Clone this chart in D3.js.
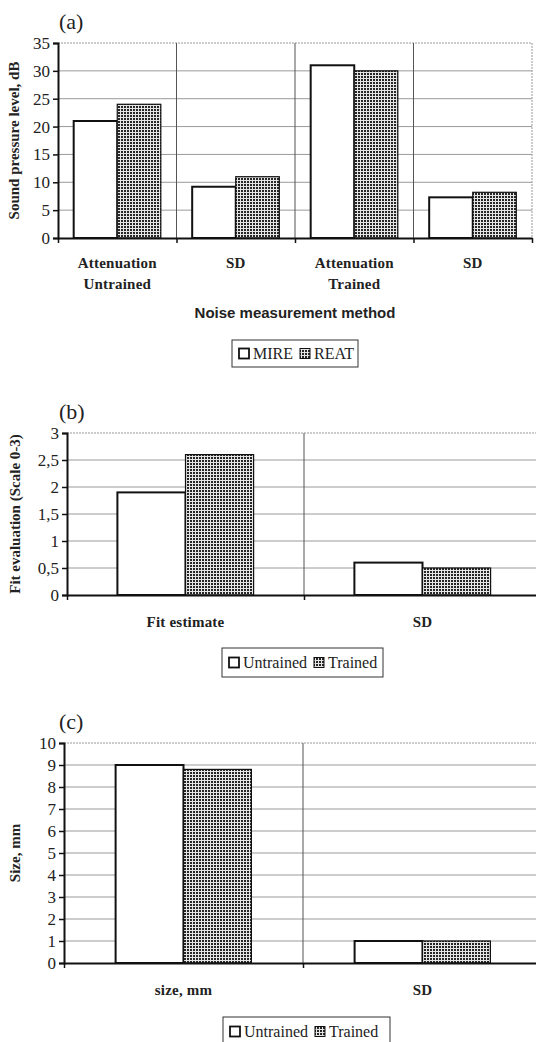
<!DOCTYPE html>
<html>
<head>
<meta charset="utf-8">
<script src="https://cdn.jsdelivr.net/npm/d3@7"></script>
<style>
  body { margin: 0; background: #fff; }
  svg { display: block; }
</style>
</head>
<body>
<div id="chart"></div>
<script>
// panel (a)
var catsA = [["Attenuation", "Untrained"], ["SD"], ["Attenuation", "Trained"], ["SD"]];
var seriesA = ["MIRE", "REAT"];
var mireA = [21, 9.2, 31, 7.3];
var reatA = [24, 11, 30, 8.2];
var ticksA = [0, 5, 10, 15, 20, 25, 30, 35];

// panel (b)
var catsB = [["Fit estimate"], ["SD"]];
var seriesB = ["Untrained", "Trained"];
var untrainedB = [1.9, 0.6];
var trainedB = [2.6, 0.5];
var ticksB = [0, 0.5, 1, 1.5, 2, 2.5, 3];

// panel (c)
var catsC = [["size, mm"], ["SD"]];
var seriesC = ["Untrained", "Trained"];
var untrainedC = [9.0, 1.0];
var trainedC = [8.8, 1.0];
var ticksC = [0, 1, 2, 3, 4, 5, 6, 7, 8, 9, 10];

var svgWidth = 536;
var svgHeight = 1042;
var serif = "'Liberation Serif', 'DejaVu Serif', serif";
var sans = "'Liberation Sans', 'DejaVu Sans', sans-serif";

var svg = d3.select("#chart")
    .append("svg")
    .attr("width", svgWidth)
    .attr("height", svgHeight);

// crosshatch fill
var defs = svg.append("defs");
var pat = defs.append("pattern")
    .attr("id", "hatch")
    .attr("patternUnits", "userSpaceOnUse")
    .attr("width", 3)
    .attr("height", 3);
pat.append("rect").attr("width", 3).attr("height", 3).attr("fill", "#262626");
pat.append("rect").attr("width", 3).attr("height", 1).attr("fill", "#e6e6e6");
pat.append("rect").attr("width", 1).attr("height", 3).attr("fill", "#e6e6e6");

var commaFmt = function(d) { return String(d).replace(".", ","); };

function drawPanel(p) {
    var g = svg.append("g");

    var x = d3.scaleBand()
        .domain(d3.range(p.cats.length))
        .range([p.left, p.right]);

    var xEdges = d3.scaleLinear()
        .domain([0, p.cats.length])
        .range([p.left, p.right]);

    var xSub = d3.scaleBand()
        .domain(p.series)
        .range([0, x.bandwidth()])
        .paddingOuter(p.pad);

    var y = d3.scaleLinear()
        .domain([0, d3.max(p.ticks)])
        .range([p.bottom, p.top]);

    // horizontal grid
    g.selectAll(".grid")
        .data(p.ticks.slice(1))
        .enter()
        .append("line")
        .attr("x1", p.left)
        .attr("x2", p.right)
        .attr("y1", d => y(d))
        .attr("y2", d => y(d))
        .attr("stroke", "#9a9a9a")
        .attr("stroke-width", 1)
        .attr("stroke-dasharray", d => d === d3.max(p.ticks) ? "2,1" : null);

    // right border (only panel a shows it)
    if (p.rightBorder) {
        g.append("line")
            .attr("x1", p.right).attr("x2", p.right)
            .attr("y1", p.top).attr("y2", p.bottom)
            .attr("stroke", "#9a9a9a")
            .attr("stroke-dasharray", "2,1");
    }

    // category separators
    g.selectAll(".sep")
        .data(d3.range(1, p.cats.length))
        .enter()
        .append("line")
        .attr("x1", d => xEdges(d))
        .attr("x2", d => xEdges(d))
        .attr("y1", p.top)
        .attr("y2", p.bottom)
        .attr("stroke", "#555")
        .attr("stroke-width", 1);

    // bars
    var rows = [];
    p.cats.forEach(function(c, i) {
        p.series.forEach(function(s, j) {
            rows.push({cat: i, series: s, value: p.values[j][i], idx: j});
        });
    });

    g.selectAll(".bar")
        .data(rows)
        .enter()
        .append("rect")
        .attr("x", d => x(d.cat) + xSub(d.series))
        .attr("y", d => y(d.value))
        .attr("width", xSub.bandwidth())
        .attr("height", d => y(0) - y(d.value))
        .attr("fill", d => d.idx === 0 ? "#fff" : "url(#hatch)")
        .attr("stroke", "#111")
        .attr("stroke-width", d => d.idx === 0 ? 2 : 1.2);

    // y axis
    var leftAxis = d3.axisLeft(y)
        .tickValues(p.ticks)
        .tickSize(5)
        .tickPadding(3)
        .tickFormat(p.fmt);

    var ya = g.append("g")
        .attr("transform", `translate(${p.left}, 0)`)
        .call(leftAxis);
    ya.attr("font-family", serif).attr("font-size", 17);
    ya.select(".domain").attr("stroke", "#111").attr("stroke-width", 2);
    ya.selectAll(".tick line").attr("stroke", "#111").attr("stroke-width", 1.5);
    ya.selectAll("text")
        .attr("font-family", serif)
        .attr("font-size", "17px")
        .attr("fill", "#222");

    // x axis with ticks at category edges
    var bottomAxis = d3.axisBottom(xEdges)
        .tickValues(d3.range(p.cats.length + 1))
        .tickSize(5)
        .tickSizeOuter(0)
        .tickFormat("");

    var xa = g.append("g")
        .attr("transform", `translate(0, ${p.bottom})`)
        .call(bottomAxis);
    xa.select(".domain").attr("stroke", "#111").attr("stroke-width", 2);
    xa.selectAll(".tick line").attr("stroke", "#111").attr("stroke-width", 1.5);

    // category labels
    p.cats.forEach(function(lines, i) {
        var t = g.append("text")
            .attr("x", x(i) + x.bandwidth() / 2)
            .attr("y", p.catY)
            .attr("text-anchor", "middle")
            .attr("font-family", serif)
            .attr("font-weight", "bold")
            .attr("font-size", "15px")
            .attr("letter-spacing", "0.2px")
            .attr("fill", "#222");
        lines.forEach(function(l, k) {
            t.append("tspan")
                .attr("x", x(i) + x.bandwidth() / 2)
                .attr("dy", k === 0 ? 0 : 21)
                .text(l);
        });
    });

    // panel letter
    g.append("text")
        .attr("x", 59)
        .attr("y", p.top - 14)
        .attr("font-family", serif)
        .attr("font-size", "22px")
        .attr("fill", "#222")
        .text(p.letter);

    // y label
    g.append("text")
        .attr("transform", `translate(${p.yLabelX}, ${(p.top + p.bottom) / 2}) rotate(-90)`)
        .attr("text-anchor", "middle")
        .attr("font-family", serif)
        .attr("font-weight", "bold")
        .attr("font-size", "15px")
        .attr("fill", "#222")
        .text(p.yLabel);

    if (p.xTitle) {
        g.append("text")
            .attr("x", p.xTitleX)
            .attr("y", p.xTitleY)
            .attr("text-anchor", "middle")
            .attr("font-family", sans)
            .attr("font-weight", "bold")
            .attr("font-size", "15px")
            .attr("fill", "#222")
            .text(p.xTitle);
    }

    // legend
    var lg = g.append("g").attr("transform", `translate(${p.legend.x}, ${p.legend.y})`);
    lg.append("rect")
        .attr("width", p.legend.w)
        .attr("height", p.legend.h)
        .attr("fill", "#fff")
        .attr("stroke", "#333")
        .attr("stroke-width", 1);
    var cx = 7;
    p.series.forEach(function(s, j) {
        lg.append("rect")
            .attr("x", cx)
            .attr("y", p.legend.h / 2 - 5)
            .attr("width", 10)
            .attr("height", 10)
            .attr("fill", j === 0 ? "#fff" : "url(#hatch)")
            .attr("stroke", "#111")
            .attr("stroke-width", j === 0 ? 1.8 : 1);
        var tx = lg.append("text")
            .attr("x", cx + 14)
            .attr("y", p.legend.h / 2 + 5.5)
            .attr("font-family", serif)
            .attr("font-size", "16px")
            .attr("fill", "#222")
            .text(s);
        cx += 14 + tx.node().getComputedTextLength() + 7;
    });
}

drawPanel({
    letter: "(a)",
    cats: catsA, series: seriesA, values: [mireA, reatA], ticks: ticksA,
    fmt: d => d,
    left: 58, right: 532, top: 43, bottom: 238, pad: 0.36,
    rightBorder: true,
    catY: 268,
    yLabel: "Sound pressure level, dB", yLabelX: 19,
    xTitle: "Noise measurement method", xTitleX: 295, xTitleY: 318,
    legend: {x: 232, y: 340, w: 126, h: 27}
});

drawPanel({
    letter: "(b)",
    cats: catsB, series: seriesB, values: [untrainedB, trainedB], ticks: ticksB,
    fmt: commaFmt,
    left: 67, right: 541, top: 433, bottom: 595, pad: 0.74,
    rightBorder: false,
    catY: 627,
    yLabel: "Fit evaluation (Scale 0-3)", yLabelX: 20,
    legend: {x: 222, y: 648, w: 161, h: 29}
});

drawPanel({
    letter: "(c)",
    cats: catsC, series: seriesC, values: [untrainedC, trainedC], ticks: ticksC,
    fmt: d => d,
    left: 64, right: 542, top: 743, bottom: 963, pad: 0.76,
    rightBorder: false,
    catY: 995,
    yLabel: "Size, mm", yLabelX: 20,
    legend: {x: 223, y: 1017, w: 167, h: 29}
});
</script>
</body>
</html>
